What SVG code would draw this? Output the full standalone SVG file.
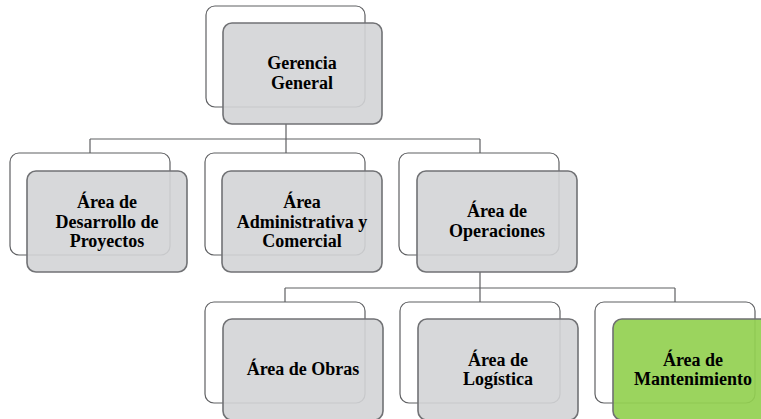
<svg xmlns="http://www.w3.org/2000/svg" width="761" height="419" viewBox="0 0 761 419">
<style>
.back{fill:#ffffff;fill-opacity:0.9;stroke:#5f6063;stroke-width:1.2}
.front{fill:#d3d4d6;fill-opacity:0.9;stroke:#717275;stroke-width:1.6}
.green{fill:#92d050;fill-opacity:0.92;stroke:#6f7072;stroke-width:1.6}
.lbl{font-weight:bold;font-size:18px;fill:#000;text-anchor:middle}
.conn{fill:none;stroke:#5f6063;stroke-width:1.2}
</style>
<rect width="761" height="419" fill="#ffffff"/>
<g id="connectors">
<path class="conn" d="M286 124V139M90 139H480M90 139V153M286 139V153M480 139V153"/>
<path class="conn" d="M480 272V288M285 288H675M285 288V302M480 288V302M675 288V302"/>
</g>
<g font-family="'Liberation Serif', 'DejaVu Serif', 'Times New Roman', serif">
<g id="gerencia">
<rect class="back" x="206" y="6" width="159" height="101" rx="9"/>
<rect class="front" x="223" y="23" width="159" height="101" rx="9"/>
<text class="lbl" x="302" y="69">Gerencia</text>
<text class="lbl" x="302" y="89">General</text>
</g>
<g id="desarrollo">
<rect class="back" x="10" y="153" width="160" height="102" rx="9"/>
<rect class="front" x="27" y="171" width="160" height="101" rx="9"/>
<text class="lbl" x="107" y="208">Área de</text>
<text class="lbl" x="107" y="227.5">Desarrollo de</text>
<text class="lbl" x="107" y="247">Proyectos</text>
</g>
<g id="administrativa">
<rect class="back" x="205" y="153" width="160" height="102" rx="9"/>
<rect class="front" x="222" y="171" width="160" height="101" rx="9"/>
<text class="lbl" x="302" y="208">Área</text>
<text class="lbl" x="302" y="227.5">Administrativa  y</text>
<text class="lbl" x="302" y="247">Comercial</text>
</g>
<g id="operaciones">
<rect class="back" x="399" y="153" width="160" height="102" rx="9"/>
<rect class="front" x="417" y="171" width="160" height="101" rx="9"/>
<text class="lbl" x="497" y="217">Área de</text>
<text class="lbl" x="497" y="236.5">Operaciones</text>
</g>
<g id="obras">
<rect class="back" x="205" y="302" width="160" height="101" rx="9"/>
<rect class="front" x="223" y="319" width="160" height="101" rx="9"/>
<text class="lbl" x="303" y="375">Área de Obras</text>
</g>
<g id="logistica">
<rect class="back" x="400" y="302" width="160" height="101" rx="9"/>
<rect class="front" x="418" y="319" width="160" height="101" rx="9"/>
<text class="lbl" x="498" y="366">Área de</text>
<text class="lbl" x="498" y="385">Logística</text>
</g>
<g id="mantenimiento">
<rect class="back" x="595" y="302" width="160" height="101" rx="9"/>
<rect class="green" x="613" y="319" width="160" height="101" rx="9"/>
<text class="lbl" x="693" y="366">Área de</text>
<text class="lbl" x="693" y="385">Mantenimiento</text>
</g>
</g>
</svg>
